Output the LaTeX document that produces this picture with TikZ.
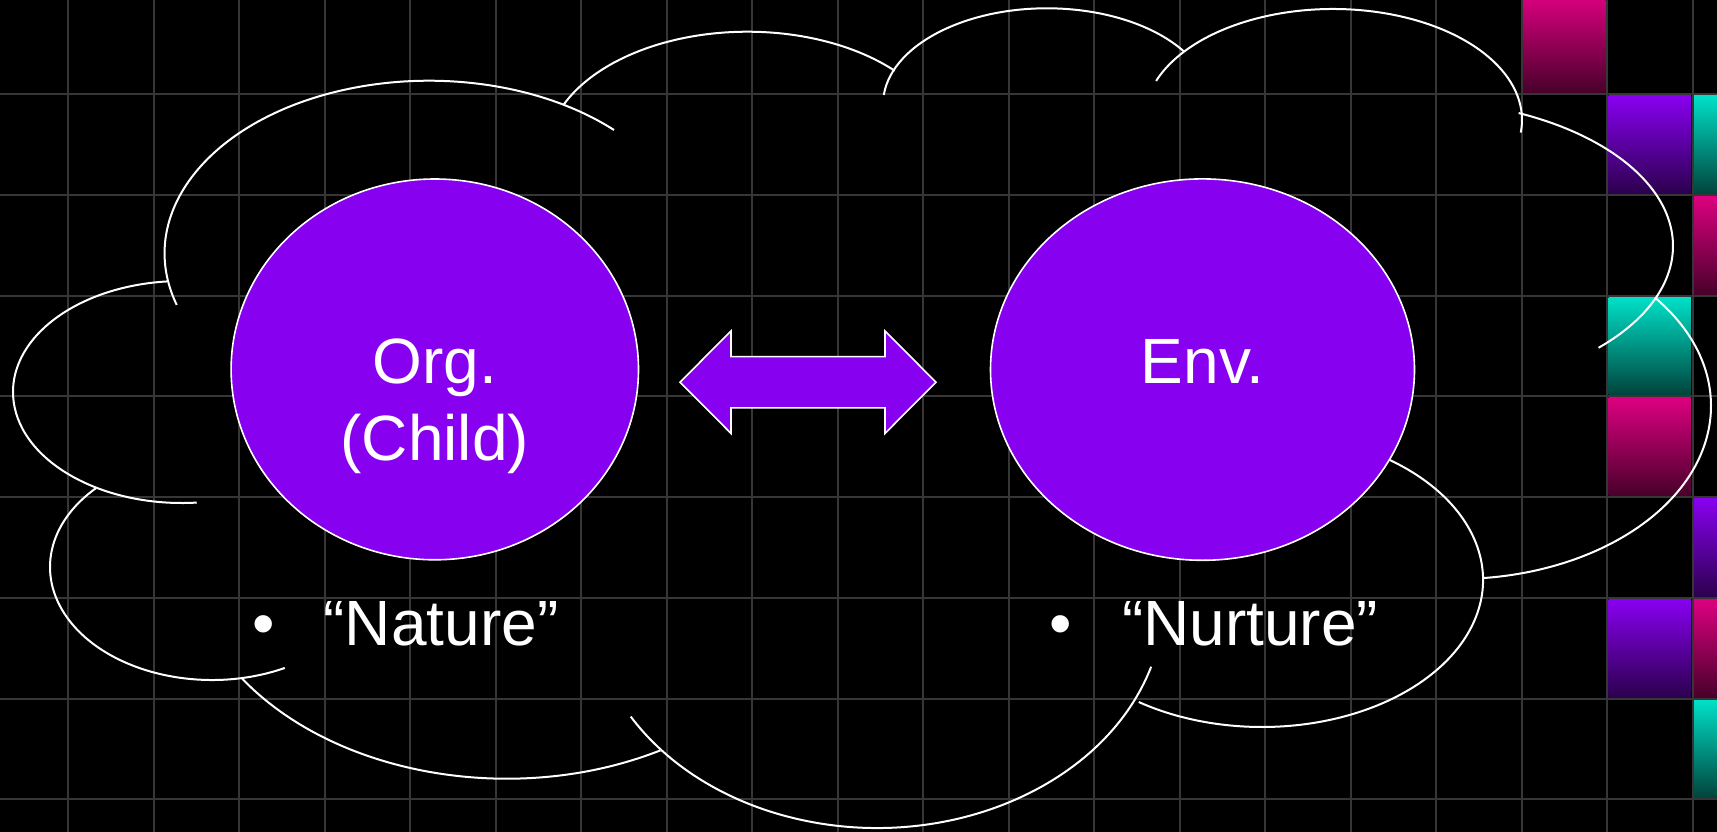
\documentclass[tikz,border=0pt]{standalone}
\usepackage{fontspec}
\setmainfont{Liberation Sans}
\usetikzlibrary{shapes.geometric}
\definecolor{blobfill}{HTML}{8800F0}
\definecolor{gridgray}{HTML}{363636}
\definecolor{magtop}{HTML}{DC0080}
\definecolor{magbot}{HTML}{48002A}
\definecolor{purtop}{HTML}{8800F0}
\definecolor{purbot}{HTML}{2C004E}
\definecolor{teatop}{HTML}{00E0C8}
\definecolor{teabot}{HTML}{00443C}

\begin{document}
\begin{tikzpicture}[x=1pt,y=-1pt,
  grid line/.style={gridgray,line width=2pt},
  cloud line/.style={white,line width=2pt},
  blob/.style={ellipse,draw=white,line width=1.6pt,fill=blobfill,inner sep=0pt},
  bigtext/.style={text=white,font=\fontsize{64}{77}\selectfont,inner sep=0pt,anchor=base}]
  % Background
  \useasboundingbox (0,0) rectangle (1717,832);
  \fill[black] (0,0) rectangle (1717,832);

  % Tiles at the right edge
  \foreach \c/\r/\hue in {17/-1/mag,18/0/pur,19/0/tea,19/1/mag,18/2/tea,18/3/mag,19/4/pur,18/5/pur,19/5/mag,19/6/tea}
    \shade[top color=\hue top,bottom color=\hue bot]
      ({68+85.5*\c+1.5},{94.3+100.7*\r+1.5}) rectangle ({68+85.5*(\c+1)-1.5},{94.3+100.7*(\r+1)-1.5});

  % Grid
  \foreach \i in {0,...,19}
    \draw[grid line] ({68+85.5*\i},0) -- ({68+85.5*\i},832);
  \foreach \j in {0,...,7}
    \draw[grid line] (0,{94.3+100.7*\j}) -- (1717,{94.3+100.7*\j});

  % Cloud outline, one lobe at a time
  \draw[cloud line] (182,392) ++(265:169 and 111) arc[start angle=265,end angle=85,x radius=169,y radius=111];
  \draw[cloud line] (429,253.3) ++(162.6:264.4 and 172.6) arc[start angle=162.6,end angle=314.4,x radius=264.4,y radius=172.6];
  \draw[cloud line] (747.5,154.1) ++(203.8:201 and 122.4) arc[start angle=203.8,end angle=317.1,x radius=201,y radius=122.4];
  \draw[cloud line] (1047,104.3) ++(185.6:164 and 96) arc[start angle=185.6,end angle=326.8,x radius=164,y radius=96];
  \draw[cloud line] (1333,120) ++(200.6:189 and 111) arc[start angle=200.6,end angle=366.5,x radius=189,y radius=111];
  \draw[cloud line] (1410,246) ++(-65.6:263 and 146) arc[start angle=-65.6,end angle=44.2,x radius=263,y radius=146];
  \draw[cloud line] (1457,406) ++(-38.5:254 and 173) arc[start angle=-38.5,end angle=84.2,x radius=254,y radius=173];
  \draw[cloud line] (1262,580) ++(-70:221 and 147) arc[start angle=-70,end angle=123.9,x radius=221,y radius=147];
  \draw[cloud line] (877,599) ++(17.2:287 and 229) arc[start angle=17.2,end angle=149.1,x radius=287,y radius=229];
  \draw[cloud line] (506.6,544.9) ++(61.5:322.4 and 233.8) arc[start angle=61.5,end angle=145.1,x radius=322.4,y radius=233.8];
  \draw[cloud line] (212,567) ++(63.3:162 and 113) arc[start angle=63.3,end angle=224.3,x radius=162,y radius=113];

  % Organism and environment
  \node[blob,minimum width=407.4pt,minimum height=380.8pt] (org) at (434.8,369.4) {};
  \node[blob,minimum width=424pt,minimum height=381.4pt] (env) at (1202.5,369.6) {};
  \node[bigtext] (orgname) at ([yshift=-13.9pt]org.center) {Org.};
  \node[bigtext] (orgchild) at ([yshift=-90.9pt]org.center) {(Child)};
  \node[bigtext] (envname) at ([yshift=-13.7pt]env.center) {Env.};

  % Two-way block arrow
  \coordinate (link) at (808,382.2);
  \draw[white,line width=1.6pt,fill=blobfill] (link) ++(-128,0) -- ++(51,-51.2) -- ++(0,25.6) -- ++(154,0) -- ++(0,-25.6)
    -- ++(51,51.2) -- ++(-51,51.2) -- ++(0,-25.6) -- ++(-154,0) -- ++(0,25.6) -- cycle;

  % Bullets
  \node[bigtext] (dotnature) at (263.3,645.3) {•};
  \node[bigtext] (nature) at (441,645.3) {“Nature”};
  \node[bigtext] (dotnurture) at (1061.1,645.3) {•};
  \node[bigtext] (nurture) at (1250.1,645.3) {“Nurture”};
\end{tikzpicture}
\end{document}
